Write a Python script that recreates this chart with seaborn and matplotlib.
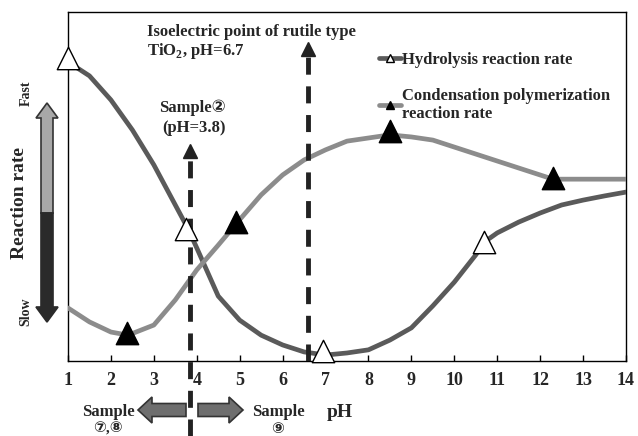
import numpy as np
import pandas as pd
import matplotlib
matplotlib.use("Agg")
import matplotlib.pyplot as plt
import matplotlib.transforms as mtransforms
from matplotlib.patches import FancyArrow
from matplotlib.lines import Line2D
import seaborn as sns

# ---------------- data ----------------
ph_hyd = [1, 1.5, 2, 2.5, 3, 3.5, 3.8, 4, 4.5, 5, 5.5, 6, 6.5, 7, 7.5, 8, 8.5,
          9, 9.5, 10, 10.5, 10.7, 11, 11.5, 12, 12.5, 13, 13.5, 14]
rate_hyd = [85.7, 81.7, 74.8, 66.2, 56.2, 44.7, 37.8, 32.4, 18.6, 11.7, 7.4, 4.6,
            2.6, 1.7, 2.3, 3.2, 6.0, 9.5, 15.8, 22.6, 30.4, 34.1, 36.7, 39.8,
            42.4, 44.7, 46.1, 47.3, 48.4]
ph_con = [1, 1.5, 2, 2.4, 3, 3.5, 4, 4.5, 5, 5.5, 6, 6.5, 7, 7.5, 8, 8.5, 9,
          9.5, 10, 11, 12, 12.3, 13, 14]
rate_con = [15.2, 11.2, 8.3, 7.4, 10.3, 17.5, 26.1, 33.2, 40.5, 47.6, 53.3,
            57.6, 60.5, 63.0, 63.9, 64.8, 64.2, 63.3, 61.3, 57.3, 53.3, 52.1,
            52.1, 52.1]
mk_hyd_ph = [1.0, 3.75, 6.95, 10.7]
mk_hyd_rate = [86.8, 37.8, 3.0, 34.1]
mk_con_ph = [2.37, 4.91, 8.5, 12.3]
mk_con_rate = [8.0, 39.8, 65.9, 52.4]
xticks = list(range(1, 15))
sample2_ph = 3.85
iep_ph = 6.6

hyd_label = "Hydrolysis reaction rate"
con_label = "Condensation polymerization\nreaction rate"

# ---------------- style ----------------
sns.set_theme(style="white")
plt.rcParams["font.family"] = ["Liberation Serif", "DejaVu Sans"]
plt.rcParams["font.weight"] = "bold"
plt.rcParams["mathtext.fontset"] = "custom"
plt.rcParams["mathtext.rm"] = "Liberation Serif:bold"
plt.rcParams["mathtext.bf"] = "Liberation Serif:bold"

W, H = 638, 436
fig = plt.figure(figsize=(W / 100, H / 100), dpi=100)
ax = fig.add_axes([68 / W, 1 - 361 / H, (626 - 68) / W, (361 - 12) / H])

col_hyd = "#5a5a5a"
col_con = "#8c8c8c"

df_h = pd.DataFrame({"pH": ph_hyd, "rate": rate_hyd})
df_c = pd.DataFrame({"pH": ph_con, "rate": rate_con})
sns.lineplot(data=df_h, x="pH", y="rate", ax=ax, color=col_hyd, lw=3.4,
             estimator=None, sort=False, zorder=3)
sns.lineplot(data=df_c, x="pH", y="rate", ax=ax, color=col_con, lw=3.4,
             estimator=None, sort=False, zorder=3)

# vertical dashed indicator lines
ax.plot([iep_ph, iep_ph], [0, 88.0], color="#222222", lw=3.5,
        dashes=(3.5, 2.4), zorder=4, solid_capstyle="butt")
ax.plot([iep_ph], [89.4], marker="^", color="#222222", ms=10, zorder=4)
ax.plot([sample2_ph, sample2_ph], [-21.5, 58.5], color="#222222", lw=3.5,
        dashes=(3.5, 2.4), zorder=4, clip_on=False)
ax.plot([sample2_ph], [60.3], marker="^", color="#222222", ms=10, zorder=4)

# markers
sns.scatterplot(x=mk_hyd_ph, y=mk_hyd_rate, ax=ax, marker="^", s=260,
                facecolor="white", edgecolor="black", linewidth=1.0,
                zorder=5, clip_on=False)
sns.scatterplot(x=mk_con_ph, y=mk_con_rate, ax=ax, marker="^", s=260,
                color="black", edgecolor="black", linewidth=1.0,
                zorder=5, clip_on=False)

ax.set_xlim(1, 14)
ax.set_ylim(0, 100)
ax.set_xticks(xticks)
ax.set_xticklabels([str(t) for t in xticks], fontsize=13, fontweight="bold")
ax.set_yticks([])
ax.tick_params(axis="x", direction="in", length=4, width=1, color="black",
               bottom=True, pad=8)
for s in ax.spines.values():
    s.set_color("black")
    s.set_linewidth(1.0)
ax.set_xlabel("pH", fontsize=14, fontweight="bold")
ax.xaxis.set_label_coords((340 - 68) / (626 - 68), -(404 - 361) / (361 - 12))
ax.set_ylabel("")

# legend
handles = [
    Line2D([0], [0], color=col_hyd, lw=3.4, marker="^", ms=6,
           markerfacecolor="white", markeredgecolor="black"),
    Line2D([0], [0], color=col_con, lw=3.4, marker="^", ms=6,
           markerfacecolor="black", markeredgecolor="black"),
]
fam = ["Liberation Serif", "DejaVu Sans"]
leg = ax.legend(handles, [hyd_label, con_label], loc="upper left",
                bbox_to_anchor=(379 / W, 1 - 52 / H), bbox_transform=fig.transFigure,
                frameon=False, handlelength=1.3, handletextpad=0.1,
                labelspacing=1.2, borderaxespad=0, borderpad=0,
                prop={"size": 12, "weight": "bold", "family": fam})

def fx(px):
    return px / W

def fy(py):
    return 1 - py / H

fig.text(fx(147), fy(32), "Isoelectric point of rutile type", fontsize=12,
         fontweight="bold", family=fam, va="center", ha="left")
fig.text(fx(147), fy(51), "TiO$_\\mathbf{2}$, pH=6.7", fontsize=12,
         fontweight="bold", family=fam, va="center", ha="left")
fig.text(fx(192), fy(108), "Sample②", fontsize=12, fontweight="bold",
         family=fam, va="center", ha="center")
fig.text(fx(194), fy(128), "(pH=3.8)", fontsize=12, fontweight="bold",
         family=fam, va="center", ha="center")

# left vertical arrow (reaction rate)
ident = mtransforms.IdentityTransform()
ax_x = 47
fig.add_artist(FancyArrow(ax_x, H - 213, 0, 110, width=12, head_width=22,
                          head_length=15, length_includes_head=True,
                          facecolor="#a8a8a8", edgecolor="#333333", lw=1.2,
                          transform=ident))
fig.add_artist(FancyArrow(ax_x, H - 213, 0, -109, width=12, head_width=22,
                          head_length=15, length_includes_head=True,
                          facecolor="#2a2a2a", edgecolor="#2a2a2a", lw=1.2,
                          transform=ident))
fig.text(fx(26), fy(93), "Fast", rotation=90, fontsize=10, fontweight="bold",
         family=fam, va="center", ha="center")
fig.text(fx(20), fy(203), "Reaction rate", rotation=90, fontsize=14,
         fontweight="bold", family=fam, va="center", ha="center")
fig.text(fx(26), fy(312), "Slow", rotation=90, fontsize=10, fontweight="bold",
         family=fam, va="center", ha="center")

# bottom horizontal arrows
fig.add_artist(FancyArrow(186, H - 410, -48, 0, width=13, head_width=26,
                          head_length=14, length_includes_head=True,
                          facecolor="#6e6e6e", edgecolor="#333333", lw=1.2,
                          transform=ident))
fig.add_artist(FancyArrow(198, H - 410, 45, 0, width=13, head_width=26,
                          head_length=14, length_includes_head=True,
                          facecolor="#6e6e6e", edgecolor="#333333", lw=1.2,
                          transform=ident))
fig.text(fx(108), fy(412), "Sample", fontsize=12, fontweight="bold",
         family=fam, va="center", ha="center")
fig.text(fx(108), fy(429), "⑦,⑧", fontsize=11, family=fam,
         va="center", ha="center")
fig.text(fx(278), fy(412), "Sample", fontsize=12, fontweight="bold",
         family=fam, va="center", ha="center")
fig.text(fx(278), fy(429), "⑨", fontsize=11, family=fam,
         va="center", ha="center")

fig.savefig("out.png", dpi=100)
